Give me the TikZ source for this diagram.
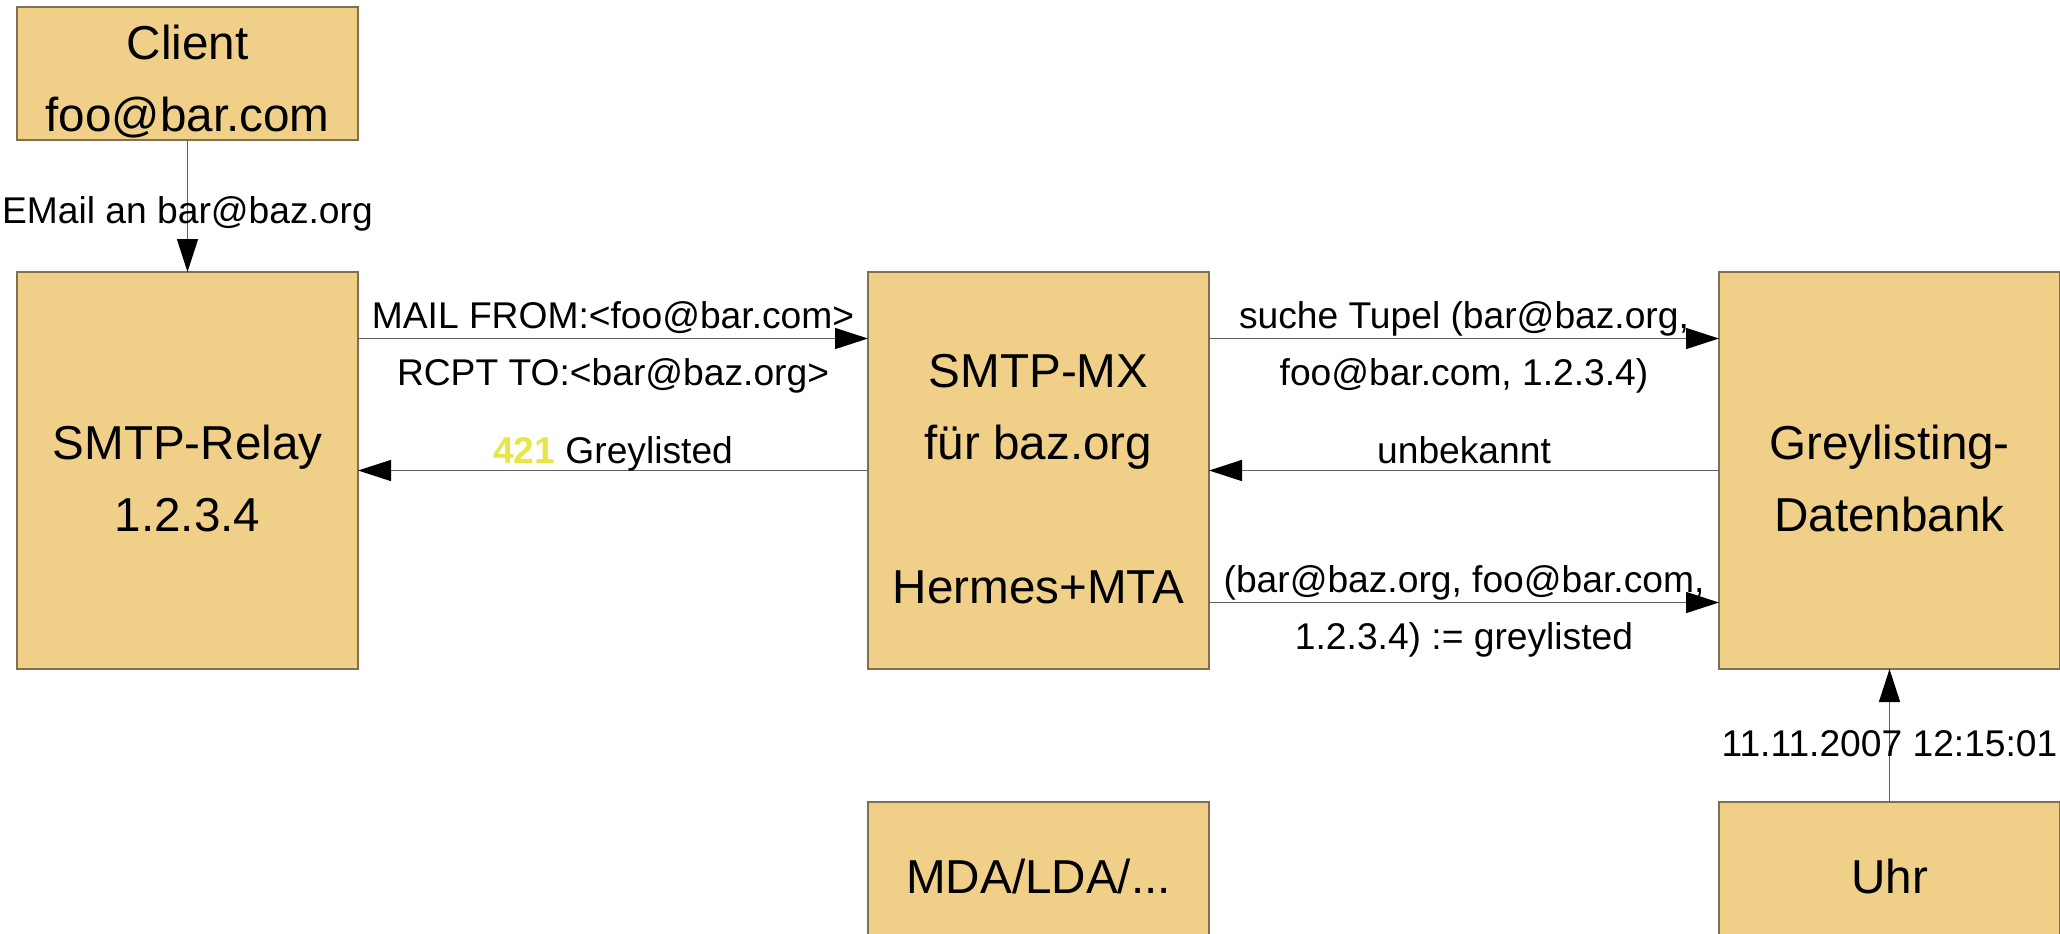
\documentclass[tikz,border=0pt]{standalone}
\usepackage{fontspec}
\setmainfont{Liberation Sans}
\usetikzlibrary{arrows.meta, positioning}
\definecolor{boxfill}{RGB}{240,208,136}
\definecolor{boxline}{RGB}{128,112,80}
\definecolor{codeyellow}{RGB}{230,230,74}
\definecolor{msgline}{RGB}{96,96,96}
\newcommand{\tstrut}{\rule{0pt}{25.4pt}}

\begin{document}
\begin{tikzpicture}[
  node distance=66pt and 255pt,
  box/.style={rectangle, draw=boxline, fill=boxfill, line width=0.7pt,
             minimum width=170.5pt, minimum height=66.5pt, inner sep=0pt,
             outer sep=0pt, align=center, font=\fontsize{23.8}{36}\selectfont},
  bigbox/.style={box, minimum height=198.5pt},
  msg/.style={-{Triangle[length=16.5pt, width=10.5pt, color=black]},
             line width=0.7pt, color=msgline},
  lbl/.style={font=\fontsize{18.6}{28.6}\selectfont, text=black, align=center}
]
\useasboundingbox (0,0) rectangle (1030pt,-466.5pt);

\node[box] (client) at (93.75pt,-36.75pt) {\tstrut Client\\foo@bar.com};
\node[bigbox, below=of client] (relay) {\tstrut SMTP-Relay\\1.2.3.4};
\node[bigbox, right=of relay] (mx) {\tstrut SMTP-MX\\für baz.org\\[36pt]Hermes+MTA};
\node[bigbox, right=of mx] (grey) {\tstrut Greylisting-\\Datenbank};
\node[box, below=66.5pt of mx] (mda) {\tstrut MDA/LDA/...};
\node[box, below=66.5pt of grey] (uhr) {\tstrut Uhr};

\draw[msg] (client.south) -- node[lbl, yshift=-4pt] {EMail an bar@baz.org} (relay.north);
\draw[msg] ([yshift=66pt]relay.east) -- node[lbl, yshift=-4.5pt] {MAIL FROM:<foo@bar.com>\\RCPT TO:<bar@baz.org>} ([yshift=66pt]mx.west);
\draw[msg] (mx.west) -- node[lbl, anchor=base, yshift=3.5pt] {\textcolor{codeyellow}{\textbf{421}} Greylisted} (relay.east);
\draw[msg] ([yshift=66pt]mx.east) -- node[lbl, yshift=-4.5pt] {suche Tupel (bar@baz.org,\\foo@bar.com, 1.2.3.4)} ([yshift=66pt]grey.west);
\draw[msg] (grey.west) -- node[lbl, anchor=base, yshift=3.5pt] {unbekannt} (mx.east);
\draw[msg] ([yshift=-66pt]mx.east) -- node[lbl, yshift=-4.5pt] {(bar@baz.org, foo@bar.com,\\1.2.3.4) := greylisted} ([yshift=-66pt]grey.west);
\draw[msg] (uhr.north) -- node[lbl, yshift=-4pt] {11.11.2007 12:15:01} (grey.south);
\end{tikzpicture}
\end{document}
